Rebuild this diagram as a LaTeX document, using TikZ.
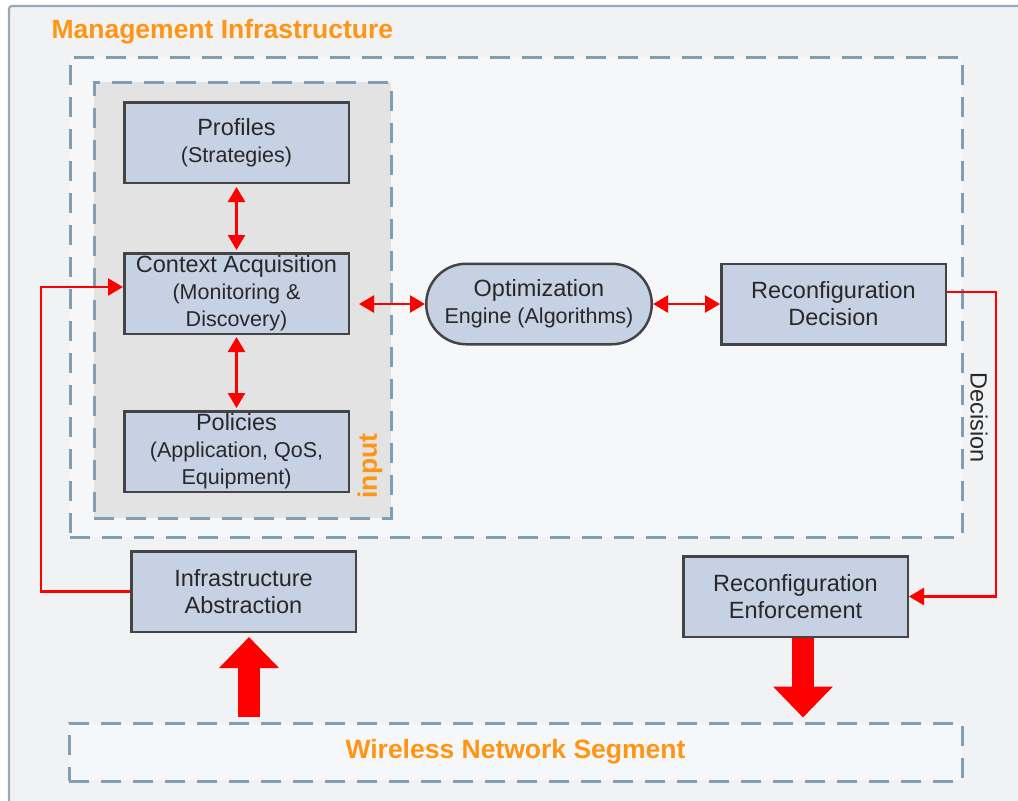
\documentclass[tikz,border=0pt]{standalone}
\usepackage{fontspec}
\setmainfont{Liberation Sans}
\usetikzlibrary{positioning,arrows.meta,calc}

\definecolor{boxblue}{RGB}{198,209,227}
\definecolor{boxline}{RGB}{68,68,68}
\definecolor{dashblue}{RGB}{128,158,180}
\definecolor{mgmtorange}{RGB}{255,149,20}
\definecolor{framegray}{RGB}{150,170,186}
\definecolor{bgpanel}{RGB}{241,242,244}
\definecolor{mgmtfill}{RGB}{246,247,249}
\definecolor{inputfill}{RGB}{227,227,227}
\definecolor{txtgray}{RGB}{40,40,40}

\newcommand{\boxfont}{\fontsize{23.5}{27}\selectfont}
\newcommand{\subfont}{\fontsize{21.5}{27}\selectfont}
\newcommand{\bigfont}{\fontsize{26.5}{30}\selectfont\bfseries}

\tikzset{
  block/.style={draw=boxline, line width=2.5pt, fill=boxblue, minimum width=224.5pt,
    minimum height=80.5pt, align=center, text=txtgray, font=\boxfont, inner sep=2pt},
  engine/.style={block, minimum width=225.5pt, rounded corners=40pt},
  region/.style={draw=dashblue, line width=3pt, dash pattern=on 20pt off 12pt},
  link/.style={draw=red, line width=2.5pt, {Triangle[length=15pt,width=17pt]}-{Triangle[length=15pt,width=17pt]}},
  feed/.style={draw=red, line width=2.5pt, -{Triangle[length=15pt,width=17pt]}},
  bigarrow/.style={draw=red, line width=22pt, -{Triangle[length=31pt,width=58pt]}},
  heading/.style={text=mgmtorange, font=\bigfont}
}

\begin{document}
\begin{tikzpicture}[x=1pt, y=-1pt]

  \useasboundingbox (0,0) rectangle (1018,801);
  \fill[white] (0,0) rectangle (1018,801);

  % Panels
  \draw[framegray, fill=bgpanel, line width=2.2pt, rounded corners=3pt] (9,6) rectangle (1030,815);
  \node[heading, anchor=base west] (title) at (48,38) {Management Infrastructure};
  \node[region, fill=mgmtfill, minimum width=892pt, minimum height=480pt] (mgmt) at (516,297) {};
  \node[region, fill=inputfill, minimum width=297pt, minimum height=436pt] (input) at (242.5,300) {};
  \node[region, fill=mgmtfill, minimum width=893pt, minimum height=58pt, heading] (wns) at (515.5,752) {Wireless Network Segment};

  % Define nodes
  \node[block] (ctx) at (236.5,293.5) {Context Acquisition\\\subfont(Monitoring \&\\\subfont Discovery)};
  \node[block, above=68pt of ctx] (prof) {Profiles\\\subfont(Strategies)};
  \node[block, below=75pt of ctx] (pol) {Policies\\\subfont(Application, QoS,\\\subfont Equipment)};
  \node[engine, right=75pt of ctx, yshift=-10.5pt] (opt) {Optimization\\\subfont Engine (Algorithms)};
  \node[block, right=67pt of opt] (dec) {Reconfiguration\\Decision};
  \node[block] (abs) at (243.5,591.5) {Infrastructure\\Abstraction};
  \node[block] (enf) at (795.5,596.5) {Reconfiguration\\Enforcement};
  \node[heading, rotate=90] (inlbl) at (370,466) {input};
  \node[rotate=-90, text=txtgray, font=\boxfont] (declbl) at (979,418) {Decision};

  % Connect the nodes
  \draw[link, shorten <=3pt, shorten >=2pt] (prof) -- (ctx);
  \draw[link, shorten <=2pt, shorten >=2pt] (ctx) -- (pol);
  \draw[link, shorten <=9pt] (ctx.east |- opt.west) -- (opt.west);
  \draw[link] (opt) -- (dec);
  \draw[feed] (abs.west) -- ++(-89,0) |- ([yshift=6.5pt]ctx.west);
  \draw[feed] ([yshift=12pt]dec.east) -- ++(49,0) |- (enf.east);

  % Wide arrows
  \draw[bigarrow, shorten <=5pt, shorten >=4pt] ($(abs.south |- wns.north)+(5.5,0)$) -- ($(abs.south)+(5.5,0)$);
  \draw[bigarrow, shorten >=4pt] ($(enf.south)+(7.5,0)$) -- ($(enf.south |- wns.north)+(7.5,0)$);

\end{tikzpicture}
\end{document}
